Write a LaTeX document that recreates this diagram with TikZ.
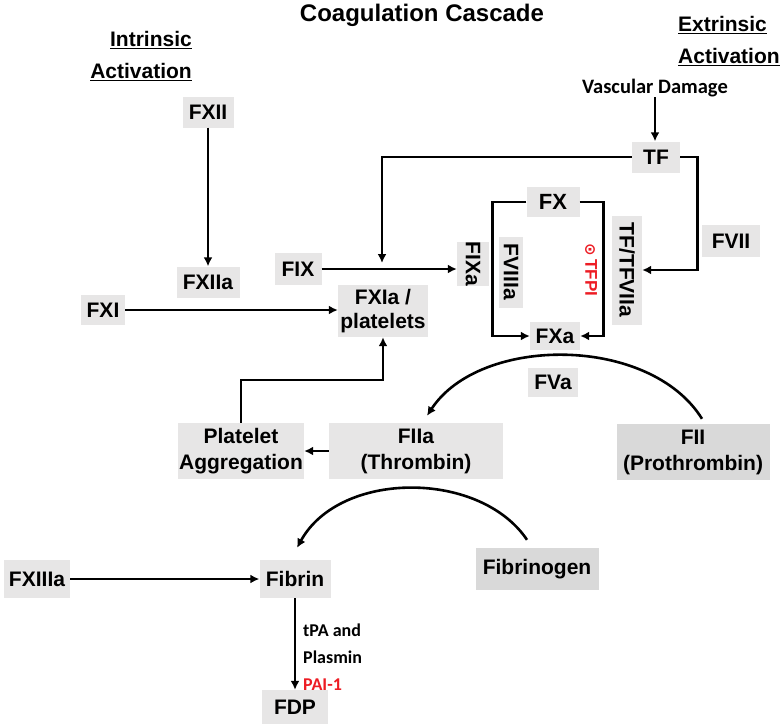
\documentclass[tikz,border=0pt]{standalone}
\usepackage{fontspec}
\setmainfont{Liberation Sans}
\newfontfamily\calibri{Carlito}
\newfontfamily\dejavu{DejaVu Sans}
\usetikzlibrary{arrows.meta}
\definecolor{boxgray}{RGB}{231,230,230}
\definecolor{boxdark}{RGB}{217,217,217}
\definecolor{inhib}{RGB}{237,28,36}

\begin{document}
\begin{tikzpicture}[x=1pt,y=-1pt,
    fac/.style={fill=boxgray,font=\bfseries\fontsize{21}{26}\selectfont,inner sep=0pt,align=center},
    facd/.style={fac,fill=boxdark},
    note/.style={font=\calibri\bfseries\fontsize{18}{27}\selectfont,inner sep=0pt},
    head/.style={font=\bfseries\fontsize{21}{32}\selectfont,inner sep=0pt},
    link/.style={line width=2.6pt,-{Latex[length=9pt,width=9pt]}}]
\useasboundingbox (0,0) rectangle (782,728);

% headings
\node[font=\bfseries\fontsize{24}{28}\selectfont] (title) at (422,15) {Coagulation Cascade};
\node[head,anchor=east,align=right] (intr) at (192,56) {\underline{Intrinsic}\\\underline{Activation}};
\node[head,anchor=west,align=left] (extr) at (678,41) {\underline{Extrinsic}\\\underline{Activation}};
\node[note,font=\calibri\bfseries\fontsize{20.5}{24}\selectfont] (vd) at (655,88) {Vascular Damage};

% factors
\node[fac,minimum width=51,minimum height=31] (fxii) at (208,112) {FXII};
\node[fac,minimum width=63,minimum height=31] (fxiia) at (208,282) {FXIIa};
\node[fac,minimum width=44,minimum height=30] (fxi) at (103,310) {FXI};
\node[fac,minimum width=47,minimum height=32] (fix) at (298,269) {FIX};
\node[fac,minimum width=90,minimum height=52,font=\bfseries\fontsize{21}{24}\selectfont] (fxia) at (383,311) {FXIa /\\platelets};
\node[fac,minimum width=48,minimum height=31] (tf) at (656,157) {TF};
\node[fac,minimum width=53,minimum height=30,font=\bfseries\fontsize{22}{26}\selectfont] (fx) at (553,202) {FX};
\node[fac,minimum width=50,minimum height=28] (fxa) at (555,336) {FXa};
\node[fac,minimum width=32,minimum height=44] (fixa) at (473,264) {\rotatebox{-90}{FIXa}};
\node[fac,minimum width=24,minimum height=71] (fviiia) at (511,272) {\rotatebox{-90}{FVIIIa}};
\node[fac,minimum width=30,minimum height=109] (tftf) at (627,270) {\rotatebox{-90}{TF/TFVIIa}};
\node[inner sep=0pt,text=inhib,font=\bfseries\fontsize{17}{20}\selectfont] (tfpi) at (591,270) {\rotatebox{-90}{{\dejavu\fontsize{15}{15}\selectfont ⊙}\,TFPI}};
\node[fac,minimum width=58,minimum height=32] (fvii) at (731,241) {FVII};
\node[fac,minimum width=50,minimum height=29] (fva) at (553,382) {FVa};
\node[fac,minimum width=126,minimum height=56] (plt) at (241,451) {Platelet\\Aggregation};
\node[fac,minimum width=174,minimum height=56] (fiia) at (416,451) {FIIa\\(Thrombin)};
\node[facd,minimum width=153,minimum height=56] (fii) at (693,452) {FII\\(Prothrombin)};
\node[facd,minimum width=123,minimum height=42] (fbg) at (537,569) {Fibrinogen};
\node[fac,minimum width=71,minimum height=38] (fibrin) at (295,579) {Fibrin};
\node[fac,minimum width=66,minimum height=38] (fxiiia) at (37,579) {FXIIIa};
\node[fac,minimum width=66,minimum height=34] (fdp) at (295,707) {FDP};
\node[note,anchor=west,align=left] (tpa) at (303,657) {tPA and\\Plasmin\\\textcolor{inhib}{PAI-1}};

\coordinate (j1) at (382,263);

% connectors
\draw[link] (vd.south) -- (vd.south |- tf.north);
\draw[link] (tf.west) -| (j1);
\draw[link] (fix.east) -- (fix.east -| fixa.west);
\draw[link] (tf.east) -- ++(17,0) |- (tftf.east);
\draw[link] (fx.west) -- ++(-34,0) |- (fxa.west);
\draw[link] (fx.east) -- ++(24,0) |- (fxa.east);
\draw[link] (fxii) -- (fxiia);
\draw[link] (fxi) -- (fxi -| fxia.west);
\draw[link] (plt.north) -- ++(0,-43) -| (fxia.south);
\draw[link] (fiia) -- (plt);
\draw[link] ([shift={(9,-5)}]fii.north) .. controls (650,335) and (480,335) .. ([shift={(11,-7)}]fiia.north);
\draw[link] ([shift={(-10,-8)}]fbg.north) .. controls (480,470) and (340,470) .. ([shift={(2,-12)}]fibrin.north);
\draw[link] (fxiiia) -- (fibrin);
\draw[link] (fibrin) -- (fdp);
\end{tikzpicture}
\end{document}
